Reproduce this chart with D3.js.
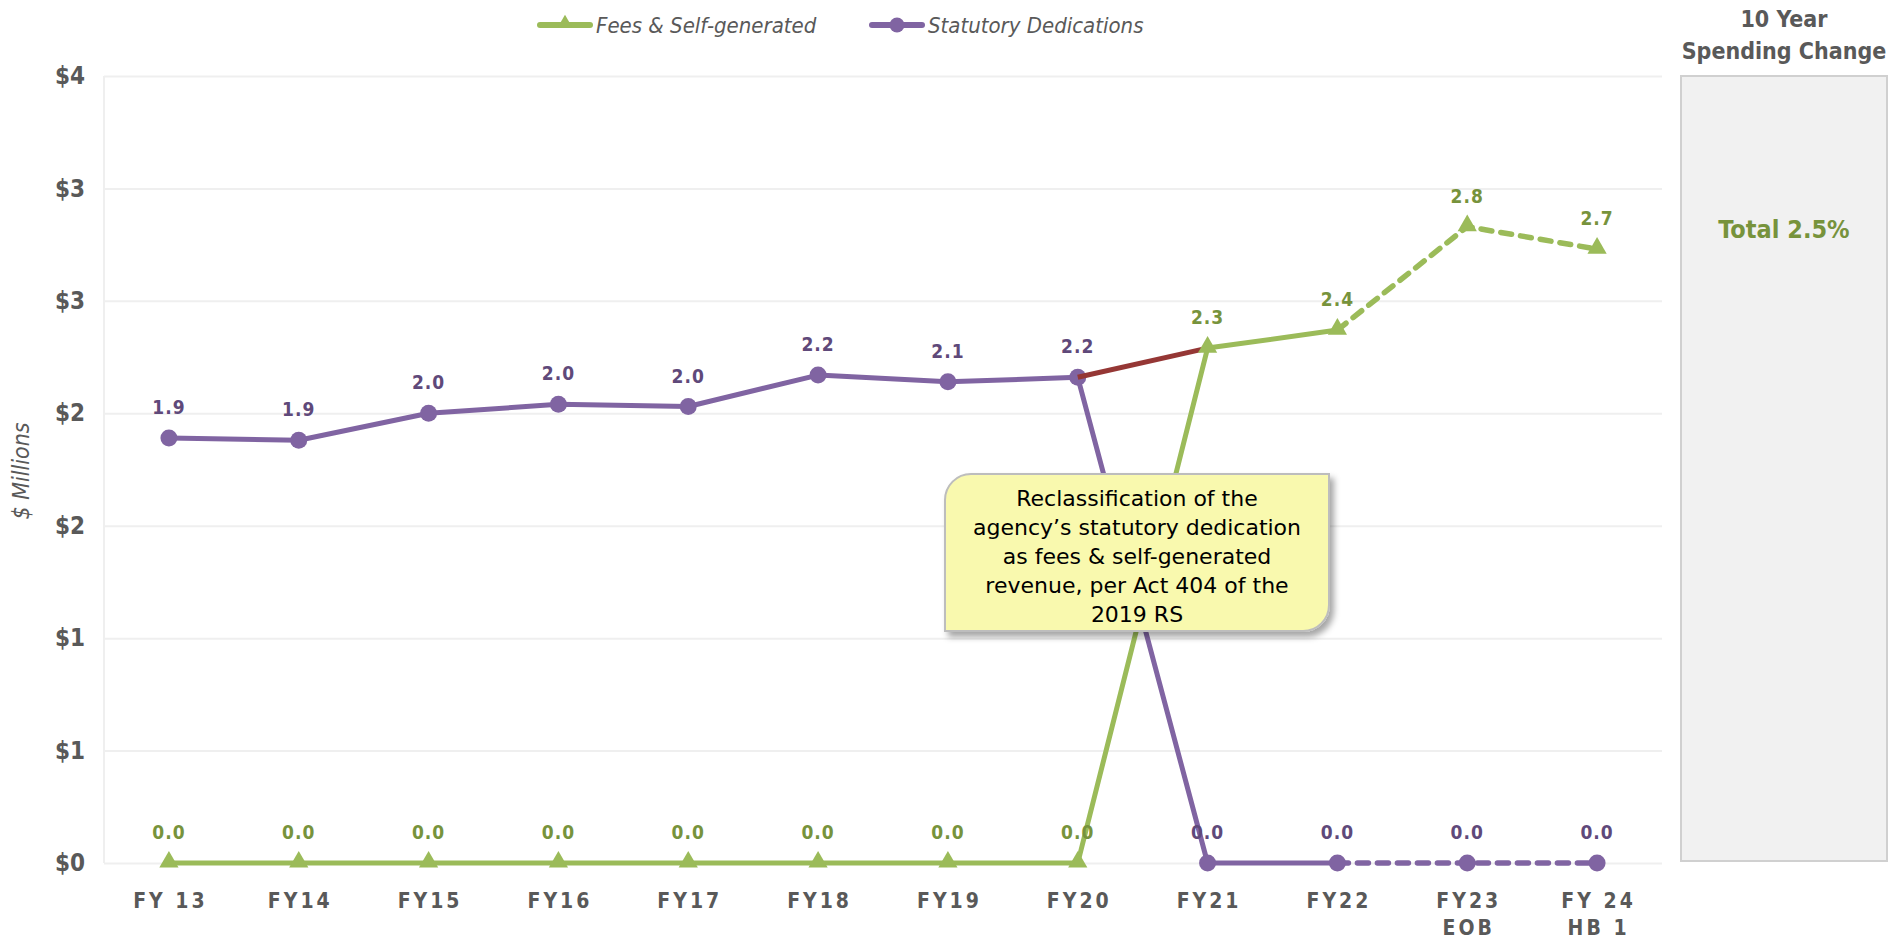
<!DOCTYPE html>
<html>
<head>
<meta charset="utf-8">
<script src="https://cdn.jsdelivr.net/npm/d3@7"></script>
<style>
  html, body { margin: 0; padding: 0; background: #ffffff; }
  svg { display: block; }
</style>
</head>
<body>
<svg id="chart" width="1893" height="940"></svg>
<script>
// Fiscal years on the x axis (second line after "\n")
const categories = ["FY 13", "FY14", "FY15", "FY16", "FY17", "FY18", "FY19", "FY20", "FY21", "FY22", "FY23\nEOB", "FY 24\nHB 1"];

// $ millions by fiscal year
const feesSelfGenerated   = [0, 0, 0, 0, 0, 0, 0, 0, 2.29, 2.37, 2.83, 2.73];
const statutoryDedications = [1.89, 1.88, 2.00, 2.04, 2.03, 2.17, 2.14, 2.16, 0, 0, 0, 0];

// Y axis ticks and their labels
const yTicks = [0, 0.5, 1, 1.5, 2, 2.5, 3, 3.5];
const yTickLabels = ["$0", "$1", "$1", "$2", "$2", "$3", "$3", "$4"];

// Index from which the remaining years are projections (dashed)
const projectedFrom = 9;

const seriesNames = ["Fees & Self-generated", "Statutory Dedications"];
const noteLines = ["Reclassification of the", "agency\u2019s statutory dedication", "as fees & self-generated", "revenue, per Act 404 of the", "2019 RS"];
const sideTitle = ["10 Year", "Spending Change"];
const sideValue = "Total 2.5%";

const GREEN = "#9BBB59", GREEN_DARK = "#77933C";
const PURPLE = "#8064A2", PURPLE_DARK = "#5F497A";
const RED = "#953735";
const GRAY_TEXT = "#595959";
const FONT = "'DejaVu Sans Condensed', 'DejaVu Sans', sans-serif";
const NOTE_FONT = "'DejaVu Sans', sans-serif";

const svg = d3.select("#chart");

const plot = { left: 104, right: 1662, top: 76, bottom: 863 };

const x = d3.scalePoint().domain(categories).range([plot.left, plot.right]).padding(0.5);
const y = d3.scaleLinear().domain([0, 3.5]).range([plot.bottom, plot.top]);

// Gridlines and y tick labels
const yAxis = d3.axisLeft(y)
  .tickValues(yTicks)
  .tickSize(-(plot.right - plot.left))
  .tickPadding(19)
  .tickFormat((d, i) => yTickLabels[i]);

const yg = svg.append("g")
  .attr("transform", `translate(${plot.left},0)`)
  .call(yAxis);
yg.select(".domain").remove();
yg.selectAll(".tick line").attr("stroke", "#EFEFEF").attr("stroke-width", 2);
yg.selectAll(".tick text")
  .attr("fill", GRAY_TEXT)
  .attr("font-family", FONT)
  .attr("font-weight", "bold")
  .attr("font-size", 24);

// Left border of the plot area
svg.append("line")
  .attr("x1", plot.left).attr("x2", plot.left)
  .attr("y1", plot.top).attr("y2", plot.bottom)
  .attr("stroke", "#EFEFEF").attr("stroke-width", 2);

// X axis labels
const xg = svg.append("g");
categories.forEach(c => {
  const t = xg.append("text")
    .attr("x", x(c))
    .attr("y", 908)
    .attr("text-anchor", "middle")
    .attr("fill", GRAY_TEXT)
    .attr("font-family", FONT)
    .attr("font-weight", "bold")
    .attr("font-size", 21)
    .attr("letter-spacing", 3);
  c.split("\n").forEach((part, i) => {
    t.append("tspan")
      .attr("x", x(c) + 1.5)
      .attr("dy", i === 0 ? 0 : 27)
      .text(part);
  });
});

// Y axis title
svg.append("text")
  .attr("transform", `translate(29,471) rotate(-90)`)
  .attr("text-anchor", "middle")
  .attr("fill", GRAY_TEXT)
  .attr("font-family", FONT)
  .attr("font-style", "italic")
  .attr("font-size", 23)
  .text("$ Millions");

const line = d3.line()
  .x(d => x(d.c))
  .y(d => y(d.v));

function points(values) {
  return values.map((v, i) => ({ c: categories[i], v, i }));
}

function drawSeries(values, color) {
  const pts = points(values);
  svg.append("path")
    .datum(pts.slice(0, projectedFrom + 1))
    .attr("d", line)
    .attr("fill", "none")
    .attr("stroke", color)
    .attr("stroke-width", 5)
    .attr("stroke-linejoin", "round");
  svg.append("path")
    .datum(pts.slice(projectedFrom))
    .attr("d", line)
    .attr("fill", "none")
    .attr("stroke", color)
    .attr("stroke-width", 5.5)
    .attr("stroke-dasharray", "11,9")
    .attr("stroke-linecap", "round");
}

const triangle = d3.symbol().type(d3.symbolTriangle).size(160);

function drawTriangles(values) {
  svg.append("g").selectAll("path")
    .data(points(values))
    .join("path")
    .attr("d", triangle)
    .attr("transform", d => `translate(${x(d.c)},${y(d.v) - 1})`)
    .attr("fill", GREEN);
}

function drawCircles(values) {
  svg.append("g").selectAll("circle")
    .data(points(values))
    .join("circle")
    .attr("cx", d => x(d.c))
    .attr("cy", d => y(d.v))
    .attr("r", 8.5)
    .attr("fill", PURPLE);
}

drawSeries(feesSelfGenerated, GREEN);
drawSeries(statutoryDedications, PURPLE);
drawCircles(statutoryDedications);

// Transfer of the dedication into fees & self-generated revenue
svg.append("line")
  .attr("x1", x(categories[7])).attr("y1", y(statutoryDedications[7]))
  .attr("x2", x(categories[8])).attr("y2", y(feesSelfGenerated[8]))
  .attr("stroke", RED)
  .attr("stroke-width", 5);

drawTriangles(feesSelfGenerated);

// Data labels
function drawLabels(values, color) {
  svg.append("g").selectAll("text")
    .data(points(values))
    .join("text")
    .attr("x", d => x(d.c))
    .attr("y", d => y(d.v) - 24)
    .attr("text-anchor", "middle")
    .attr("fill", color)
    .attr("font-family", FONT)
    .attr("font-weight", "bold")
    .attr("font-size", 19)
    .attr("letter-spacing", 1)
    .text(d => d3.format(".1f")(d.v));
}
drawLabels(feesSelfGenerated, GREEN_DARK);
drawLabels(statutoryDedications, PURPLE_DARK);

// Callout note
const note = { x: 945, y: 474, w: 384, h: 157, r: 26 };
const defs = svg.append("defs");
const f = defs.append("filter").attr("id", "shadow").attr("x", "-10%").attr("y", "-10%").attr("width", "130%").attr("height", "140%");
f.append("feDropShadow").attr("dx", 4).attr("dy", 5).attr("stdDeviation", 3).attr("flood-color", "#000").attr("flood-opacity", 0.35);

const p = d3.path();
p.moveTo(note.x + note.r, note.y);
p.lineTo(note.x + note.w, note.y);
p.lineTo(note.x + note.w, note.y + note.h - note.r);
p.arcTo(note.x + note.w, note.y + note.h, note.x + note.w - note.r, note.y + note.h, note.r);
p.lineTo(note.x, note.y + note.h);
p.lineTo(note.x, note.y + note.r);
p.arcTo(note.x, note.y, note.x + note.r, note.y, note.r);
p.closePath();

svg.append("path")
  .attr("d", p.toString())
  .attr("fill", "#F9F9AE")
  .attr("stroke", "#BDBDBD")
  .attr("stroke-width", 2)
  .attr("filter", "url(#shadow)");

const nt = svg.append("text")
  .attr("text-anchor", "middle")
  .attr("fill", "#000")
  .attr("font-family", NOTE_FONT)
  .attr("font-size", 22);
noteLines.forEach((l, i) => {
  nt.append("tspan")
    .attr("x", note.x + note.w / 2)
    .attr("y", note.y + 32 + i * 29)
    .text(l);
});

// Legend
const legend = svg.append("g");
const legendItems = [
  { name: seriesNames[0], color: GREEN, x: 540, shape: "tri" },
  { name: seriesNames[1], color: PURPLE, x: 872, shape: "dot" }
];
legendItems.forEach(it => {
  legend.append("line")
    .attr("x1", it.x).attr("x2", it.x + 50)
    .attr("y1", 25).attr("y2", 25)
    .attr("stroke", it.color).attr("stroke-width", 6)
    .attr("stroke-linecap", "round");
  if (it.shape === "tri") {
    legend.append("path")
      .attr("d", d3.symbol().type(d3.symbolTriangle).size(90)())
      .attr("transform", `translate(${it.x + 25},23)`)
      .attr("fill", it.color);
  } else {
    legend.append("circle")
      .attr("cx", it.x + 25).attr("cy", 25).attr("r", 7.5)
      .attr("fill", it.color);
  }
  legend.append("text")
    .attr("x", it.x + 56)
    .attr("y", 33)
    .attr("fill", GRAY_TEXT)
    .attr("font-family", FONT)
    .attr("font-style", "italic")
    .attr("font-size", 22)
    .text(it.name);
});

// Ten-year change panel
svg.append("rect")
  .attr("x", 1681).attr("y", 76)
  .attr("width", 206).attr("height", 785)
  .attr("fill", "#F1F1F1")
  .attr("stroke", "#D0D0D0")
  .attr("stroke-width", 2);

sideTitle.forEach((l, i) => {
  svg.append("text")
    .attr("x", 1784)
    .attr("y", 27 + i * 32)
    .attr("text-anchor", "middle")
    .attr("fill", GRAY_TEXT)
    .attr("font-family", FONT)
    .attr("font-weight", "bold")
    .attr("font-size", 23)
    .text(l);
});

svg.append("text")
  .attr("x", 1784)
  .attr("y", 238)
  .attr("text-anchor", "middle")
  .attr("fill", GREEN_DARK)
  .attr("font-family", FONT)
  .attr("font-weight", "bold")
  .attr("font-size", 25)
  .text(sideValue);
</script>
</body>
</html>
